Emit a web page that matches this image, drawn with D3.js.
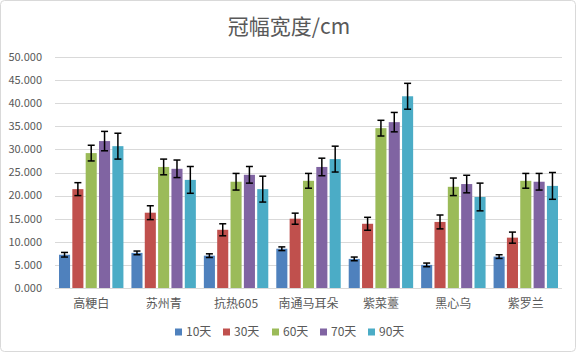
<!DOCTYPE html>
<html>
<head>
<meta charset="utf-8">
<script src="https://cdn.jsdelivr.net/npm/d3@7"></script>
<style>
  body { margin: 0; background: #fff; }
  svg text { font-family: "Noto Sans CJK SC", "Noto Sans", sans-serif; }
</style>
</head>
<body>
<svg id="chart"></svg>
<script>
const categories = ["高粳白", "苏州青", "抗热605", "南通马耳朵", "紫菜薹", "黑心乌", "紫罗兰"];
const seriesNames = ["10天", "30天", "60天", "70天", "90天"];
const colors = ["#4F81BD", "#C0504D", "#9BBB59", "#8064A2", "#4BACC6"];
const yTicks = [0, 5, 10, 15, 20, 25, 30, 35, 40, 45, 50];

// one row per series, one value per category
const values = [
  [7.2, 7.6, 7.0, 8.5, 6.3, 5.0, 6.8],
  [21.4, 16.3, 12.6, 15.0, 13.9, 14.3, 10.9],
  [29.2, 26.2, 23.0, 23.2, 34.6, 21.9, 23.2],
  [31.8, 25.8, 24.5, 26.2, 35.9, 22.5, 23.0],
  [30.7, 23.4, 21.4, 27.9, 41.5, 19.7, 22.1]
];
const errors = [
  [0.5, 0.4, 0.4, 0.4, 0.4, 0.4, 0.4],
  [1.4, 1.5, 1.3, 1.2, 1.4, 1.5, 1.2],
  [1.7, 1.7, 1.8, 1.6, 1.7, 1.9, 1.6],
  [2.1, 1.9, 1.8, 1.9, 2.1, 1.9, 1.8],
  [2.8, 2.9, 2.8, 2.8, 2.8, 3.0, 2.9]
];

const width = 576, height = 352;
const svg = d3.select("#chart").attr("width", width).attr("height", height);

// outer frame
svg.append("rect")
  .attr("x", 0.5).attr("y", 0.5)
  .attr("width", width - 1).attr("height", height - 1)
  .attr("rx", 4)
  .attr("fill", "#fff")
  .attr("stroke", "#d9d9d9");

const x0 = d3.scaleBand().domain(categories).range([55, 562]);
const x1 = d3.scaleBand().domain(seriesNames).range([0, x0.bandwidth()])
  .paddingInner(0.17).paddingOuter(0.3);
const y = d3.scaleLinear().domain([0, 50]).range([288, 57]);

// gridlines
svg.append("g")
  .selectAll("line")
  .data(yTicks)
  .enter()
  .append("line")
  .attr("x1", 55).attr("x2", 562)
  .attr("y1", (d) => Math.round(y(d)) + 0.5)
  .attr("y2", (d) => Math.round(y(d)) + 0.5)
  .attr("stroke", "#d9d9d9")
  .attr("stroke-width", 1);

// y labels
svg.append("g")
  .selectAll("text")
  .data(yTicks)
  .enter()
  .append("text")
  .attr("x", 42)
  .attr("y", (d) => y(d))
  .attr("dy", "0.35em")
  .attr("text-anchor", "end")
  .attr("fill", "#595959")
  .style("font-size", "11px")
  .text((d) => d3.format(".3f")(d));

// x labels
svg.append("g")
  .selectAll("text")
  .data(categories)
  .enter()
  .append("text")
  .attr("x", (d) => x0(d) + x0.bandwidth() / 2)
  .attr("y", 304)
  .attr("dy", "0.35em")
  .attr("text-anchor", "middle")
  .attr("fill", "#595959")
  .style("font-size", "12px")
  .text((d) => d);

// bars + error bars
const flat = [];
values.forEach((row, si) => {
  row.forEach((v, ci) => {
    flat.push({ s: seriesNames[si], si: si, c: categories[ci], v: v, e: errors[si][ci] });
  });
});

svg.append("g")
  .selectAll("rect")
  .data(flat)
  .enter()
  .append("rect")
  .attr("x", (d) => x0(d.c) + x1(d.s))
  .attr("y", (d) => y(d.v))
  .attr("width", x1.bandwidth())
  .attr("height", (d) => y(0) - y(d.v))
  .attr("fill", (d) => colors[d.si]);

const eb = svg.append("g")
  .attr("stroke", "#000")
  .attr("stroke-width", 1.5)
  .selectAll("g")
  .data(flat)
  .enter()
  .append("g")
  .attr("transform", (d) => "translate(" + (x0(d.c) + x1(d.s) + x1.bandwidth() / 2) + ",0)");

eb.append("line")
  .attr("y1", (d) => y(d.v + d.e))
  .attr("y2", (d) => y(d.v - d.e));
eb.append("line")
  .attr("x1", -3.5).attr("x2", 3.5)
  .attr("y1", (d) => y(d.v + d.e))
  .attr("y2", (d) => y(d.v + d.e));
eb.append("line")
  .attr("x1", -3.5).attr("x2", 3.5)
  .attr("y1", (d) => y(d.v - d.e))
  .attr("y2", (d) => y(d.v - d.e));

// title
svg.append("text")
  .attr("x", 289)
  .attr("y", 27)
  .attr("dy", "0.35em")
  .attr("text-anchor", "middle")
  .attr("fill", "#595959")
  .style("font-size", "21px")
  .text("冠幅宽度/cm");

// legend
const legendX = [175, 223, 272, 320, 368];
const legend = svg.append("g")
  .selectAll("g")
  .data(seriesNames)
  .enter()
  .append("g")
  .attr("transform", (d, i) => "translate(" + legendX[i] + ",332)");

legend.append("rect")
  .attr("x", 0).attr("y", -3.5)
  .attr("width", 7).attr("height", 7)
  .attr("fill", (d, i) => colors[i]);

legend.append("text")
  .attr("x", 11)
  .attr("y", 0)
  .attr("dy", "0.35em")
  .attr("fill", "#595959")
  .style("font-size", "12px")
  .text((d) => d);
</script>
</body>
</html>
